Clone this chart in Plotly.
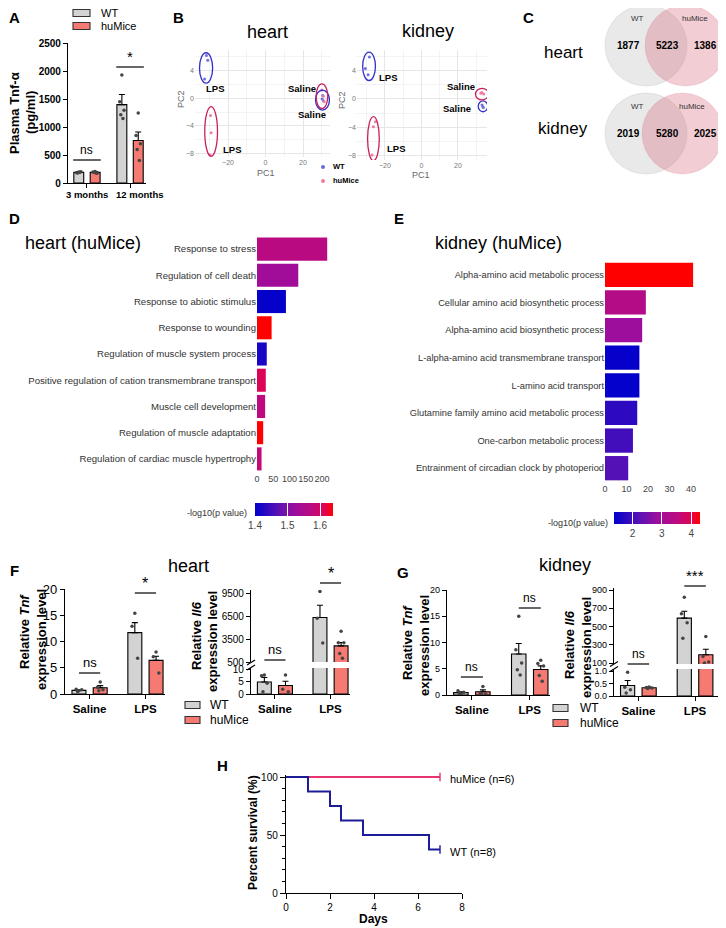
import plotly.graph_objects as go

# the page puts the figure 8px in from the top-left corner, so the figure is 8px smaller
# and every pixel position below is given in page pixels, then shifted
W, H = 726, 928
PAD = 8
FW, FH = W - PAD, H - PAD
FONT = "Liberation Sans, Arial, sans-serif"

# ---------------- data ----------------
# A: plasma Tnf-a (pg/ml)
a_groups = ["3 months", "12 months"]
a_wt_mean = [190, 1400]
a_wt_sem = [15, 180]
a_hu_mean = [190, 760]
a_hu_sem = [15, 150]
a_wt_pts = [[195, 185, 200, 180, 190], [1930, 1450, 1300, 1220, 1150]]
a_hu_pts = [[205, 195, 180, 190, 175], [1250, 850, 700, 600, 400]]

# B: PCA coordinates (LPS x3 then Saline x3)
heart_wt_pc1 = [-31.5, -30.8, -32.5, 30.5, 31.0, 30.2]
heart_wt_pc2 = [6.2, 5.5, 2.8, 0.4, -0.4, -0.1]
heart_hu_pc1 = [-29.3, -29.0, -29.6, 30.0, 30.8, 31.3]
heart_hu_pc2 = [-2.5, -5.0, -8.2, 1.2, 0.3, -0.5]
kidney_wt_pc1 = [-28.5, -30.7, -29.2, 33.2, 33.6, 33.9]
kidney_wt_pc2 = [5.9, 4.3, 3.4, -0.85, -1.1, -1.2]
kidney_hu_pc1 = [-25.2, -26.3, -27.0, 34.1, 33.0, 32.5]
kidney_hu_pc2 = [-3.2, -3.9, -7.9, 0.7, 0.9, 0.8]
# ellipses: (center pc1, center pc2, radius pc1, radius pc2)
heart_wt_ell = [(-31.7, 4.4, 3.5, 2.2), (30.4, -0.25, 3.7, 1.45)]
heart_hu_ell = [(-29.0, -4.8, 3.4, 3.6), (30.1, 0.3, 3.1, 1.8)]
kidney_wt_ell = [(-28.7, 4.6, 3.5, 2.0), (33.7, -1.04, 2.6, 0.76)]
kidney_hu_ell = [(-26.3, -5.6, 3.2, 3.1), (33.2, 0.68, 3.6, 0.82)]

# C: Venn counts (WT only, shared, huMice only)
venn_heart = [1877, 5223, 1386]
venn_kidney = [2019, 5280, 2025]

# D: heart (huMice) GO terms
d_terms = ["Response to stress", "Regulation of cell death", "Response to abiotic stimulus",
           "Response to wounding", "Regulation of muscle system process",
           "Positive regulation of cation transmembrane transport", "Muscle cell development",
           "Regulation of muscle adaptation", "Regulation of cardiac muscle hypertrophy"]
d_counts = [216, 127, 89, 45, 30, 27, 25, 19, 14]
d_logp = [1.573, 1.532, 1.405, 1.64, 1.42, 1.61, 1.58, 1.64, 1.587]

# E: kidney (huMice) GO terms
e_terms = ["Alpha-amino acid metabolic process", "Cellular amino acid biosynthetic process",
           "Alpha-amino acid biosynthetic process", "L-alpha-amino acid transmembrane transport",
           "L-amino acid transport", "Glutamine family amino acid metabolic process",
           "One-carbon metabolic process", "Entrainment of circadian clock by photoperiod"]
e_counts = [41, 19, 17.3, 16, 16, 15, 13, 10.8]
e_logp = [4.3, 3.36, 2.89, 1.43, 1.40, 1.81, 2.01, 2.19]

# F / G: relative expression
treat = ["Saline", "LPS"]
f_tnf_wt_mean = [0.7, 11.7]
f_tnf_wt_sem = [0.1, 1.9]
f_tnf_hu_mean = [1.2, 6.4]
f_tnf_hu_sem = [0.4, 0.8]
f_tnf_wt_pts = [[0.6, 0.9, 0.8, 0.5], [15.4, 12.9, 6.8]]
f_tnf_hu_pts = [[2.3, 1.3, 0.8, 0.6], [8.0, 7.1, 4.0]]

f_il6_wt_mean = [4.8, 6300]
f_il6_wt_sem = [1.8, 1600]
f_il6_hu_mean = [3.4, 2600]
f_il6_hu_sem = [1.7, 450]
f_il6_wt_pts = [[7.6, 7.3, 4.3, 0.9], [9700, 6220, 2970]]
f_il6_hu_pts = [[7.6, 1.9, 0.9], [4500, 3000, 3000, 1600, 1000]]

g_tnf_wt_mean = [0.45, 7.8]
g_tnf_wt_sem = [0.15, 2.0]
g_tnf_hu_mean = [0.63, 4.85]
g_tnf_hu_sem = [0.35, 0.7]
g_tnf_wt_pts = [[0.2, 0.8, 0.5, 0.3], [15.0, 8.6, 6.1, 4.8, 3.8]]
g_tnf_hu_pts = [[1.6, 0.4, 0.2, 0.3], [6.6, 6.0, 5.5, 3.7, 2.6]]

g_il6_wt_mean = [0.42, 592]
g_il6_wt_sem = [0.2, 75]
g_il6_hu_mean = [0.33, 190]
g_il6_hu_sem = [0.02, 60]
g_il6_wt_pts = [[0.95, 0.35, 0.25, 0.12], [820, 640, 540, 370]]
g_il6_hu_pts = [[0.36, 0.34, 0.32, 0.30], [390, 170, 110, 100]]

# H: survival
wt_days = [0, 1, 2, 2.5, 3.5, 6.5, 7]
wt_surv = [100, 87.5, 75, 62.5, 50, 37.5, 37.5]
hu_days = [0, 7]
hu_surv = [100, 100]

# ---------------- helpers ----------------
WT_COLOR = "#D3D3D3"
HU_COLOR = "#F47A72"
OFF = 0.19
BW = 0.25
JIT = [0, -0.05, 0.05, -0.025, 0.025]
SCALE = [[0, "#0000CC"], [0.3, "#5A12B4"], [0.5, "#9A0E9E"], [0.75, "#BE0A7E"],
         [0.9, "#E2034E"], [1, "#FF0000"]]


def px(x):
    return (x - PAD) / FW


def py(y):
    return 1 - (y - PAD) / FH


def xdom(a, b):
    return [px(a), px(b)]


def ydom(top, bottom):
    return [py(bottom), py(top)]


fig = go.Figure()
annotations = []
shapes = []


def text(x, y, s, size=10, bold=False, color="black", xanchor="center", yanchor="middle",
         angle=0, xref="paper", yref="paper"):
    if xref == "paper":
        x = px(x)
    if yref == "paper":
        y = py(y)
    annotations.append(dict(x=x, y=y, xref=xref, yref=yref, text=s, showarrow=False,
                            xanchor=xanchor, yanchor=yanchor, textangle=angle,
                            font=dict(size=size, color=color, family=FONT,
                                      weight="bold" if bold else "normal")))


def add_bars(xa, ya, wt_mean, wt_sem, hu_mean, hu_sem, wt_pts, hu_pts, bw=BW):
    n = len(wt_mean)
    for mean, sem, pts, color, shift in [(wt_mean, wt_sem, wt_pts, WT_COLOR, -OFF),
                                          (hu_mean, hu_sem, hu_pts, HU_COLOR, OFF)]:
        xs = [i + shift for i in range(n)]
        fig.add_trace(go.Bar(x=xs, y=mean, width=bw, xaxis=xa, yaxis=ya,
                             marker=dict(color=color, line=dict(color="black", width=1.1)),
                             error_y=dict(type="data", symmetric=False, array=sem,
                                          arrayminus=[0] * n, color="black",
                                          thickness=1.1, width=3),
                             showlegend=False, hoverinfo="skip"))
        dx, dy = [], []
        for i, p in enumerate(pts):
            for k, v in enumerate(p):
                dx.append(i + shift + JIT[k % len(JIT)])
                dy.append(v)
        fig.add_trace(go.Scatter(x=dx, y=dy, mode="markers", xaxis=xa, yaxis=ya,
                                 marker=dict(size=3.5, color="#444444"),
                                 showlegend=False, hoverinfo="skip"))


def bracket(xa, i, y, label, half=OFF, size=12, gap=1):
    shapes.append(dict(type="line", xref=xa, yref="paper", x0=i - half, x1=i + half,
                       y0=py(y), y1=py(y), line=dict(color="black", width=1.2)))
    text(i, y - gap, label, size=size, xref=xa, yanchor="bottom")


def ytitle(x1, y1, s1, x2, y2, s2, size=13):
    text(x1, y1, s1, size=size, bold=True, angle=-90)
    text(x2, y2, s2, size=size, bold=True, angle=-90)


def bar_x(dom, rng, anchor, size=11.5):
    return dict(domain=xdom(*dom), range=rng, anchor=anchor, tickvals=[0, 1], ticktext=treat,
                showline=True, linecolor="black", linewidth=1.2, ticks="outside", ticklen=4,
                tickwidth=1.2, tickcolor="black", showgrid=False, zeroline=False, tickangle=0,
                tickfont=dict(size=size, weight="bold", color="black", family=FONT))


def bar_y(dom, rng, anchor, tickvals, size, bold=False, ticktext=None):
    return dict(domain=ydom(*dom), range=rng, anchor=anchor, tickvals=tickvals, ticktext=ticktext,
                showline=True, linecolor="black", linewidth=1.2, ticks="outside", ticklen=4,
                tickwidth=1.2, tickcolor="black", showgrid=False, zeroline=False,
                tickfont=dict(size=size, weight="bold" if bold else "normal", color="black",
                              family=FONT))


def legend_boxes(x0, x1, y_wt, y_hu, tx, size):
    for yy, col, lab in [(y_wt, WT_COLOR, "WT"), (y_hu, HU_COLOR, "huMice")]:
        shapes.append(dict(type="rect", xref="paper", yref="paper", x0=px(x0), x1=px(x1),
                           y0=py(yy + 3.5), y1=py(yy - 3.5), fillcolor=col,
                           line=dict(color="#333333", width=1.1)))
        text(tx, yy, lab, size=size, xanchor="left")


# ---------------- A ----------------
add_bars("x", "y", a_wt_mean, a_wt_sem, a_hu_mean, a_hu_sem, a_wt_pts, a_hu_pts, bw=0.23)
layout_axes = {}
xa = bar_x((68, 146), [-0.44, 1.37], "y", size=9.5)
xa["ticktext"] = ["", ""]
layout_axes["xaxis"] = xa
layout_axes["yaxis"] = bar_y((43, 183), [0, 2500], "x", [0, 500, 1000, 1500, 2000, 2500], 10, bold=True)
text(87, 194, a_groups[0], size=9.5, bold=True)
text(140, 194, a_groups[1], size=9.5, bold=True)
bracket("x", 0, 160, "ns", half=OFF + 0.13, size=12)
bracket("x", 1, 67, "*", half=OFF + 0.13, size=15, gap=0)
ytitle(15, 113, "Plasma Tnf-α", 31, 113, "(pg/ml)")
legend_boxes(73, 90, 13, 26, 99, 11)

# ---------------- B ----------------
for ax, dom_x, dom_y, rng_x, rng_y, wx, wy, hx, hy, wel, hel in [
        ("2", (195, 330), (50, 157), [-37.6, 34.4], [-8.5, 7.0],
         heart_wt_pc1, heart_wt_pc2, heart_hu_pc1, heart_hu_pc2, heart_wt_ell, heart_hu_ell),
        ("3", (357, 487), (50, 160), [-35.3, 35.9], [-8.6, 6.9],
         kidney_wt_pc1, kidney_wt_pc2, kidney_hu_pc1, kidney_hu_pc2, kidney_wt_ell, kidney_hu_ell)]:
    fig.add_trace(go.Scatter(x=wx, y=wy, mode="markers", xaxis="x" + ax, yaxis="y" + ax,
                             marker=dict(size=3, color="#7070E0"), showlegend=False))
    fig.add_trace(go.Scatter(x=hx, y=hy, mode="markers", xaxis="x" + ax, yaxis="y" + ax,
                             marker=dict(size=3, color="#F07AA0"), showlegend=False))
    for ells, col in [(wel, "#3030C8"), (hel, "#C8205E")]:
        for cx, cy, rx, ry in ells:
            shapes.append(dict(type="circle", xref="x" + ax, yref="y" + ax, x0=cx - rx, x1=cx + rx,
                               y0=cy - ry, y1=cy + ry, line=dict(color=col, width=1.3)))
    grid = dict(showgrid=True, gridcolor="#E6E6E6", gridwidth=0.8, zeroline=False, showline=False,
                ticks="", tickfont=dict(size=7, color="#777777", family=FONT))
    layout_axes["xaxis" + ax] = dict(domain=xdom(*dom_x), range=rng_x, anchor="y" + ax,
                                     tick0=0, dtick=20,
                                     minor=dict(showgrid=True, dtick=10, gridcolor="#F3F3F3"), **grid)
    layout_axes["yaxis" + ax] = dict(domain=ydom(*dom_y), range=rng_y, anchor="x" + ax,
                                     tick0=0, dtick=4,
                                     minor=dict(showgrid=True, dtick=2, gridcolor="#F3F3F3"), **grid)

text(267, 32, "heart", size=18)
text(428, 31, "kidney", size=18)
text(266, 173, "PC1", size=9, color="#666666")
text(421, 175, "PC1", size=9, color="#666666")
text(181, 99, "PC2", size=9, color="#666666", angle=-90)
text(342, 100, "PC2", size=9, color="#666666", angle=-90)
for x, y, s, ax in [(-27.2, 1.45, "LPS", "2"), (-18.1, -7.4, "LPS", "2"), (19.2, 1.45, "Saline", "2"),
                    (25.0, -2.3, "Saline", "2"), (-18.1, 3.0, "LPS", "3"), (-14.2, -7.0, "LPS", "3"),
                    (21.4, 1.8, "Saline", "3"), (19.2, -1.4, "Saline", "3")]:
    text(x, y, s, size=9.5, bold=True, xref="x" + ax, yref="y" + ax)
for yy, col, lab in [(167, "#6A6AE0", "WT"), (181, "#F07AA0", "huMice")]:
    shapes.append(dict(type="circle", xref="paper", yref="paper", x0=px(321), x1=px(325),
                       y0=py(yy + 2), y1=py(yy - 2), fillcolor=col, line=dict(width=0)))
    text(331, yy, lab, size=7.5, bold=True, xanchor="left")

# ---------------- C ----------------
for counts, top, pink_x0, label, ly in [(venn_heart, 5, 645, "heart", 53),
                                          (venn_kidney, 93, 642, "kidney", 128)]:
    shapes.append(dict(type="circle", xref="paper", yref="paper", x0=px(605), x1=px(687),
                       y0=py(top + 81), y1=py(top), fillcolor="rgba(200,200,200,0.4)",
                       line=dict(color="rgba(200,200,200,0.5)", width=0.8)))
    shapes.append(dict(type="circle", xref="paper", yref="paper", x0=px(pink_x0), x1=px(pink_x0 + 81),
                       y0=py(top + 81), y1=py(top), fillcolor="rgba(212,88,112,0.3)",
                       line=dict(color="rgba(212,88,112,0.2)", width=0.8)))
    text(563, ly, label, size=17)
    yy = top + 40
    text(628, yy, f"{counts[0]}", size=10, bold=True)
    text(667, yy, f"{counts[1]}", size=10, bold=True)
    text(705, yy, f"{counts[2]}", size=10, bold=True)
    text(637, top + 14, "WT", size=8, color="#333333")
    text(pink_x0 + 50, top + 14, "huMice", size=8, color="#333333")

# ---------------- D / E ----------------
for ax, terms, counts, logp, dom_x, dom_y, rng_x, tv, lab_size, cb in [
        ("4", d_terms, d_counts, d_logp, (257, 335), (236, 472), [0, 240], [0, 50, 100, 150, 200], 9.6,
         dict(cmin=1.4, cmax=1.64, x=294, top=503, len=78, th=13, tv=[1.4, 1.5, 1.6])),
        ("5", e_terms, e_counts, e_logp, (605, 700), (261, 482), [0, 44.2], [0, 10, 20, 30, 40], 9.3,
         dict(cmin=1.37, cmax=4.3, x=657, top=512, len=86, th=12, tv=[2, 3, 4]))]:
    fig.add_trace(go.Bar(
        x=counts, y=terms, orientation="h", width=0.88, xaxis="x" + ax, yaxis="y" + ax,
        marker=dict(color=logp, colorscale=SCALE, cmin=cb["cmin"], cmax=cb["cmax"], line=dict(width=0),
                    showscale=True,
                    colorbar=dict(orientation="h", x=px(cb["x"]), xanchor="center", y=py(cb["top"]),
                                  yanchor="top", len=cb["len"], lenmode="pixels",
                                  thickness=cb["th"], tickvals=cb["tv"], ticks="inside",
                                  tickcolor="white", ticklen=cb["th"], outlinewidth=0,
                                  xpad=0, ypad=0,
                                  tickfont=dict(size=10, color="#444444", family=FONT))),
        showlegend=False, hoverinfo="skip"))
    layout_axes["xaxis" + ax] = dict(domain=xdom(*dom_x), range=rng_x, anchor="y" + ax, tickvals=tv,
                                     showgrid=False, zeroline=False, showline=False, ticks="",
                                     tickangle=0,
                                     tickfont=dict(size=9, color="#444444", family=FONT))
    layout_axes["yaxis" + ax] = dict(domain=ydom(*dom_y), anchor="x" + ax, type="category",
                                     autorange="reversed", showgrid=False, zeroline=False,
                                     showline=False, ticks="",
                                     tickfont=dict(size=lab_size, color="#333333", family=FONT))

text(23, 243, "heart (huMice)", size=18, xanchor="left")
text(433, 243, "kidney (huMice)", size=18, xanchor="left")
text(249, 513, "-log10(p value)", size=9, color="#333333", xanchor="right")
text(610, 523, "-log10(p value)", size=9, color="#333333", xanchor="right")

# ---------------- F ----------------
add_bars("x6", "y6", f_tnf_wt_mean, f_tnf_wt_sem, f_tnf_hu_mean, f_tnf_hu_sem, f_tnf_wt_pts, f_tnf_hu_pts)
layout_axes["xaxis6"] = bar_x((65, 165), [-0.44, 1.35], "y6")
layout_axes["yaxis6"] = bar_y((589, 694), [0, 20], "x6", [0, 5, 10, 15, 20], 13)
bracket("x6", 0, 673, "ns", size=13)
bracket("x6", 1, 593, "*", size=16, gap=-1)
ytitle(24, 632, "Relative <i>Tnf</i>", 41, 640, "expression level")

for ya in ["y7", "y8"]:
    add_bars("x7", ya, f_il6_wt_mean, f_il6_wt_sem, f_il6_hu_mean, f_il6_hu_sem, f_il6_wt_pts, f_il6_hu_pts)
layout_axes["xaxis7"] = bar_x((251, 350), [-0.43, 1.35], "y7")
layout_axes["yaxis7"] = bar_y((668, 694), [0, 10.4], "x7", [0, 5, 10], 10)
layout_axes["yaxis8"] = bar_y((590, 662), [500, 9900], "x7", [500, 3500, 6500, 9500], 10)
bracket("x7", 0, 660, "ns", size=13)
bracket("x7", 1, 583, "*", size=16, gap=-1)
ytitle(196, 636, "Relative <i>Il6</i>", 212, 642, "expression level")
text(188, 566, "heart", size=18)
legend_boxes(185, 200, 705, 720, 208, 12)

# ---------------- G ----------------
add_bars("x8", "y9", g_tnf_wt_mean, g_tnf_wt_sem, g_tnf_hu_mean, g_tnf_hu_sem, g_tnf_wt_pts, g_tnf_hu_pts)
layout_axes["xaxis8"] = bar_x((447, 550), [-0.43, 1.35], "y9")
layout_axes["yaxis9"] = bar_y((590, 695), [0, 20], "x8", [0, 5, 10, 15, 20], 9)
bracket("x8", 0, 677, "ns", size=12)
bracket("x8", 1, 608, "ns", size=12)
ytitle(407, 643, "Relative <i>Tnf</i>", 424, 646, "expression level")

for ya in ["y10", "y11"]:
    add_bars("x9", ya, g_il6_wt_mean, g_il6_wt_sem, g_il6_hu_mean, g_il6_hu_sem, g_il6_wt_pts, g_il6_hu_pts)
layout_axes["xaxis9"] = bar_x((614, 720), [-0.43, 1.44], "y10")
layout_axes["yaxis10"] = bar_y((669, 696), [0, 1.08], "x9", [0, 0.5, 1.0], 9,
                               ticktext=["0.0", "0.5", "1.0"])
layout_axes["yaxis11"] = bar_y((588, 664), [89, 922], "x9", [100, 300, 500, 700, 900], 9)
bracket("x9", 0, 664, "ns", size=12)
bracket("x9", 1, 586, "***", size=15, gap=0)
ytitle(569, 645, "Relative <i>Il6</i>", 586, 648, "expression level")
text(565, 565, "kidney", size=18)
legend_boxes(553, 568, 708, 723, 578, 12)

# axis break marks
for bx, by in [(251, 665), (614, 666.5)]:
    for dy in (-2.5, 2.5):
        shapes.append(dict(type="line", xref="paper", yref="paper", x0=px(bx - 4), x1=px(bx + 4),
                           y0=py(by + dy + 2.5), y1=py(by + dy - 2.5), line=dict(color="black", width=1.2)))

# ---------------- H ----------------
fig.add_trace(go.Scatter(x=hu_days, y=hu_surv, mode="lines+markers", line=dict(color="#E8336E", width=2, shape="hv"),
                         marker=dict(symbol="line-ns", size=[0, 6], line=dict(color="#E8336E", width=2)),
                         xaxis="x10", yaxis="y12", showlegend=False, cliponaxis=False))
fig.add_trace(go.Scatter(x=wt_days, y=wt_surv, mode="lines+markers", line=dict(color="#1C1C96", width=2, shape="hv"),
                         marker=dict(symbol="line-ns", size=[0] * (len(wt_days) - 1) + [6],
                                     line=dict(color="#1C1C96", width=2)),
                         xaxis="x10", yaxis="y12", showlegend=False, cliponaxis=False))
axis_h = dict(showline=True, linecolor="black", linewidth=1.4, ticks="outside", ticklen=5, tickwidth=1.4,
              tickcolor="black", showgrid=False, zeroline=False,
              tickfont=dict(size=10, color="black", family=FONT))
layout_axes["xaxis10"] = dict(domain=xdom(286, 462), range=[0, 8], anchor="y12", dtick=2, **axis_h)
layout_axes["yaxis12"] = dict(domain=ydom(775.3, 893), range=[0, 101.5], anchor="x10", tickvals=[0, 50, 100],
                              minor=dict(ticks="outside", dtick=10, ticklen=3, tickcolor="black"), **axis_h)
text(373, 919, "Days", size=12, bold=True)
text(253, 833, "Percent survival (%)", size=12, bold=True, angle=-90)
text(448, 779, "huMice (n=6)", size=11, xanchor="left")
text(448, 852, "WT (n=8)", size=11, xanchor="left")

# ---------------- panel letters ----------------
for x, y, s in [(14, 17, "A"), (178, 17, "B"), (528, 17, "C"), (14, 218, "D"), (399, 218, "E"),
                (14, 570, "F"), (403, 572, "G"), (222, 765, "H")]:
    text(x, y, s, size=15, bold=True)

fig.update_layout(width=FW, height=FH, margin=dict(l=0, r=0, t=0, b=0, pad=0, autoexpand=False),
                  paper_bgcolor="white", plot_bgcolor="white", barmode="overlay", showlegend=False,
                  font=dict(family=FONT, color="black"), annotations=annotations, shapes=shapes,
                  **layout_axes)

fig.write_html("out.html")
